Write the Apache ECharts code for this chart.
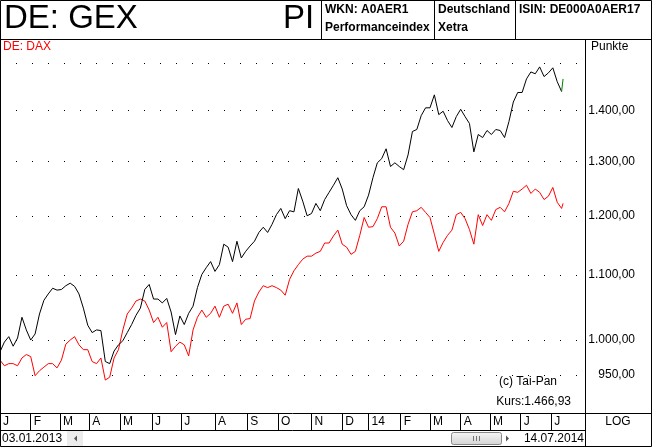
<!DOCTYPE html>
<html><head><meta charset="utf-8">
<script src="https://cdn.jsdelivr.net/npm/echarts@6/dist/echarts.min.js"></script>
<style>html,body{margin:0;padding:0;background:#fff}#c{width:652px;height:447px}</style>
</head><body><div id="c"></div>
<script>
// ---- data ----
const monthLabels = ['J','F','M','A','M','J','J','A','S','O','N','D','14','F','M','A','M','J','J'];
const monthStartDay = [0,21,41,61,82,104,124,147,169,190,213,234,252,274,294,315,335,356,377]; // trading-day index of month start
const yLabelValues = [950,1000,1100,1200,1300,1400];
const yTickValues = [950,1000,1100,1200,1300,1400,1500];
const sampleStep = 3;   // trading days between samples (from 03.01.2013)
const lastDay = 385;    // 14.07.2014
const startDate = '03.01.2013';
const endDate = '14.07.2014';
const gexValues = [
983,997,1005,991,1003,1034,1015,1000,1009,1039,
1060,1070,1079,1076,1077,1083,1087,1082,1070,1048,
1022,1011,1015,1014,969,966,984,993,999,1011,
1023,1037,1048,1077,1085,1062,1062,1056,1063,1042,
1008,1036,1023,1040,1051,1080,1101,1112,1122,1106,
1117,1151,1146,1122,1156,1128,1139,1148,1156,1171,
1180,1171,1185,1202,1213,1195,1209,1207,1249,1226,
1200,1204,1222,1209,1229,1242,1255,1269,1248,1218,
1202,1192,1209,1216,1237,1269,1297,1305,1324,1290,
1297,1290,1284,1312,1358,1362,1390,1406,1406,1433,
1392,1399,1380,1366,1388,1403,1388,1374,1318,1352,
1346,1360,1352,1362,1360,1346,1378,1418,1438,1438,
1467,1482,1478,1493,1472,1480,1491,1461,1440];
const gexLast = 1466.93;
const daxValues = [
971,963,966,966,963,974,979,976,949,956,
961,966,966,960,971,994,1000,1005,993,986,
986,969,966,974,943,947,974,986,1015,1039,
1048,1059,1062,1059,1045,1026,1034,1019,1026,983,
991,997,993,977,1015,1034,1045,1034,1040,1051,
1034,1051,1054,1040,1056,1023,1031,1032,1059,1073,
1083,1080,1083,1080,1076,1068,1093,1107,1117,1126,
1131,1131,1136,1139,1153,1153,1165,1175,1151,1146,
1134,1139,1166,1197,1180,1181,1195,1216,1216,1180,
1170,1148,1156,1185,1207,1209,1215,1206,1197,1168,
1139,1154,1166,1175,1202,1206,1195,1176,1151,1202,
1183,1202,1192,1211,1215,1207,1222,1244,1242,1248,
1255,1240,1248,1242,1229,1235,1251,1224,1213];
const daxLast = 1222;

// ---- helpers ----
function fmtDE(n){
  const s = n.toFixed(2).split('.');
  return s[0].replace(/\B(?=(\d{3})+(?!\d))/g,'.') + ',' + s[1];
}
const FONT = '"Liberation Sans", Arial, sans-serif';
const L = Math.log;

const gexData = gexValues.map((v,i)=>[i*sampleStep, L(v)]);
const gexTail = [gexData[gexData.length-1], [lastDay, L(gexLast)]];
const daxData = daxValues.map((v,i)=>[i*sampleStep, L(v)]).concat([[lastDay, L(daxLast)]]);

function txt(text, x, y, opt){
  return Object.assign({type:'text', z:100, silent:true, style:Object.assign({
    text, x, y, fill:'#000', font:'12px '+FONT, align:'left', verticalAlign:'middle'}, opt||{})});
}
function ln(x1,y1,x2,y2,color){
  return {type:'line', z:100, silent:true, shape:{x1,y1,x2,y2}, style:{stroke:color||'#000', lineWidth:1}};
}

const chart = echarts.init(document.getElementById('c'), null, {renderer:'canvas'});
chart.setOption({
  animation:false,
  backgroundColor:'#fff',
  grid:{left:0, right:67, top:40, bottom:34, containLabel:false, outerBoundsMode:'none'},
  xAxis:{
    type:'value', min:0, max:400,
    axisLine:{show:true, lineStyle:{color:'#000', width:1}},
    axisTick:{show:true, inside:false, length:17, customValues:monthStartDay, lineStyle:{color:'#000'}},
    axisLabel:{show:true, customValues:monthStartDay, formatter:(v)=>monthLabels[monthStartDay.indexOf(v)],
      align:'left', padding:[0,0,0,3], margin:3, color:'#000', fontSize:12, fontFamily:FONT, hideOverlap:false},
    splitLine:{show:false}
  },
  yAxis:{
    type:'value', position:'right', min:L(898.5), max:L(1553.1),
    axisLine:{show:true, lineStyle:{color:'#000', width:1}},
    axisTick:{show:true, inside:true, length:3, customValues:yTickValues.map(L), lineStyle:{color:'#000'}},
    axisLabel:{show:true, customValues:yLabelValues.map(L), formatter:(v)=>fmtDE(Math.round(Math.exp(v))),
      align:'right', margin:50, color:'#000', fontSize:12, fontFamily:FONT},
    splitLine:{show:true, lineStyle:{color:'#000', width:1, type:[1,15]}}
  },
  series:[
    {type:'line', name:'DE: DAX', data:daxData, showSymbol:false, symbol:'none', silent:true,
     lineStyle:{color:'#ff0000', width:1}, z:3},
    {type:'line', name:'DE: GEX', data:gexData, showSymbol:false, symbol:'none', silent:true,
     lineStyle:{color:'#000000', width:1}, z:4},
    {type:'line', name:'last', data:gexTail, showSymbol:false, symbol:'none', silent:true,
     lineStyle:{color:'#008000', width:1}, z:5}
  ],
  graphic:[
    {type:'rect', z:100, silent:true, shape:{x:0.5,y:0.5,width:651,height:446}, style:{fill:null, stroke:'#000', lineWidth:1}},
    ln(0,39.5,652,39.5),
    ln(321.5,0,321.5,39.5), ln(434.5,0,434.5,39.5), ln(515.5,0,515.5,39.5),
    ln(585.5,39.5,585.5,447),
    ln(0,430.5,585.5,430.5),
    ln(585.5,413.5,652,413.5),
    txt('DE: GEX', 4, 19, {font:'33px '+FONT}),
    txt('PI', 283, 19, {font:'33px '+FONT}),
    txt('WKN: A0AER1', 325, 9.5, {font:'bold 12px '+FONT}),
    txt('Performanceindex', 325, 27.5, {font:'bold 12px '+FONT}),
    txt('Deutschland', 438, 9.5, {font:'bold 12px '+FONT}),
    txt('Xetra', 438, 27.5, {font:'bold 12px '+FONT}),
    txt('ISIN: DE000A0AER17', 519, 9.5, {font:'bold 12px '+FONT}),
    txt('DE: DAX', 3, 47, {fill:'#ff0000'}),
    txt('Punkte', 591, 47),
    txt('LOG', 618, 422, {align:'center'}),
    txt('(c) Tai-Pan', 499, 382),
    txt('Kurs:' + fmtDE(gexLast), 571, 401.5, {align:'right'}),
    txt(startDate, 2, 438.5),
    txt(endDate, 584, 438.5, {align:'right'}),
    {type:'rect', z:100, silent:true, shape:{x:67,y:431,width:16,height:15}, style:{fill:'#ececec'}},
    {type:'polygon', z:101, silent:true, shape:{points:[[77,435.5],[77,441.5],[74,438.5]]}, style:{fill:'#555'}},
    {type:'polygon', z:101, silent:true, shape:{points:[[506,435.5],[506,441.5],[509,438.5]]}, style:{fill:'#555'}},
    {type:'rect', z:100, silent:true, shape:{x:451.5,y:432.5,width:50,height:12, r:2},
     style:{fill:new echarts.graphic.LinearGradient(0,0,0,1,[{offset:0,color:'#f6f6f6'},{offset:1,color:'#d4d4d4'}]), stroke:'#8a8a8a', lineWidth:1}},
    ln(473.5,436,473.5,441,'#777'), ln(476.5,436,476.5,441,'#777'), ln(479.5,436,479.5,441,'#777')
  ]
});
</script></body></html>
